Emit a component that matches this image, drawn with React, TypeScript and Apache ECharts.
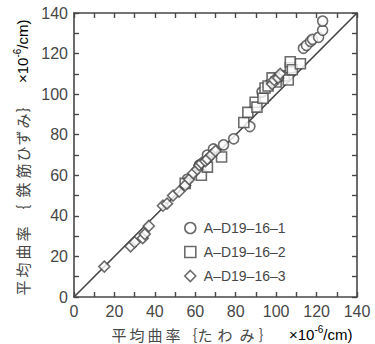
import React, { useEffect, useRef } from "react";
import * as echarts from "echarts";

const seriesNames = ["A–D19–16–1", "A–D19–16–2", "A–D19–16–3"];

const circleData: number[][] = [
  [56, 58], [62, 65], [66, 70], [69, 73], [74, 75], [79, 78], [87, 84],
  [93, 101], [97, 105], [100, 107], [113.5, 122.6], [115, 124], [117, 126],
  [118, 127], [121, 128], [123, 131.5], [123, 136],
];

const squareData: number[][] = [
  [55, 56], [63, 60], [66, 64], [73, 69], [84, 86], [86, 91], [89.6, 96],
  [90.5, 93.6], [93.5, 98], [94.5, 103], [96, 104], [98, 108], [100, 106],
  [104, 109], [106, 107], [107, 113], [107, 116], [108, 112], [112, 115],
];

const diamondData: number[][] = [
  [15, 15], [28, 25], [30, 27], [34, 29], [35, 31], [37, 35], [44, 45],
  [46, 46], [49, 50], [52, 52], [55, 55], [57, 58], [59, 61], [61, 63],
  [62, 65], [63, 66], [65, 67], [66, 68], [68, 70], [70, 72], [98, 105],
  [99, 107], [101, 108], [102, 110],
];

const equalityLine: number[][] = [[0, 0], [140, 140]];

const axisMin = 0;
const axisMax = 140;
const tickStep = 10;
const labelStep = 20;

const xTitleChars = ["平", "均", "曲", "率", "｛", "た", "わ", "み", "｝"];
const yTitleChars = ["平", "均", "曲", "率", "｛", "鉄", "筋", "ひ", "ず", "み", "｝"];
const unitMain = "×10";
const unitSup = "-6";
const unitTail = "/cm)";

const INK = "#474747";
const FONT = "'Liberation Sans', Arial, 'Noto Sans CJK JP', sans-serif";
const CJK = "'Noto Sans CJK JP', sans-serif";

export default function App() {
  const ref = useRef<HTMLDivElement>(null);
  useEffect(() => {
    if (!ref.current) return;
    const chart = echarts.init(ref.current, undefined, { renderer: "svg" });

    const axisCommon = {
      type: "value" as const,
      min: axisMin,
      max: axisMax,
      interval: tickStep,
      axisLine: { show: true, onZero: false, lineStyle: { color: INK, width: 1.6 } },
      axisTick: { show: true, inside: true, length: 5, lineStyle: { color: INK, width: 1.4 } },
      splitLine: { show: false },
    };
    const labelCommon = {
      fontSize: 16,
      color: INK,
      fontFamily: FONT,
      formatter: (v: number) => (v % labelStep === 0 ? String(v) : ""),
    };

    const xPos = [119, 137, 155, 173, 190, 205, 225, 247, 266];
    const yPos = [288, 270, 252, 234, 212, 190, 171, 154, 138, 121, 105];

    const unitRich = {
      a: { fontSize: 15, fontFamily: FONT, color: INK },
      s: { fontSize: 10, fontFamily: FONT, color: INK, padding: [0, 0, 9, 0] },
    };

    const graphics: any[] = [];
    xTitleChars.forEach((c, i) => {
      graphics.push({
        type: "text",
        x: xPos[i],
        y: 334,
        style: { text: c, font: `15px ${CJK}`, fill: INK, align: "center", verticalAlign: "middle" },
      });
    });
    graphics.push({
      type: "text",
      x: 289,
      y: 334,
      style: {
        text: `{a|${unitMain}}{s|${unitSup}}{a|${unitTail}}`,
        align: "left",
        verticalAlign: "middle",
        rich: unitRich,
      },
    });
    yTitleChars.forEach((c, i) => {
      graphics.push({
        type: "text",
        x: 22,
        y: yPos[i],
        rotation: Math.PI / 2,
        style: { text: c, font: `15px ${CJK}`, fill: INK, align: "center", verticalAlign: "middle" },
      });
    });
    graphics.push({
      type: "text",
      x: 22,
      y: 83,
      rotation: Math.PI / 2,
      style: {
        text: `{a|${unitMain}}{s|${unitSup}}{a|${unitTail}}`,
        align: "left",
        verticalAlign: "middle",
        rich: unitRich,
      },
    });

    const markerStyle = { color: "#ffffff", borderColor: INK, borderWidth: 1.6 };

    chart.setOption({
      animation: false,
      backgroundColor: "#ffffff",
      grid: { left: 74, top: 13, width: 283, height: 284, containLabel: false },
      xAxis: [
        { ...axisCommon, position: "bottom", axisLabel: { ...labelCommon, margin: 6 } },
        { ...axisCommon, position: "top", axisLabel: { show: false } },
      ],
      yAxis: [
        { ...axisCommon, position: "left", axisLabel: { ...labelCommon, margin: 6 } },
        { ...axisCommon, position: "right", axisLabel: { show: false } },
      ],
      legend: {
        orient: "vertical",
        left: 179,
        top: 216,
        itemWidth: 11,
        itemHeight: 11,
        itemGap: 10,
        data: seriesNames,
        itemStyle: { color: "#ffffff", borderColor: INK, borderWidth: 1.6 },
        textStyle: { fontSize: 14, color: INK, fontFamily: FONT, padding: [0, 0, 0, 3] },
      },
      graphic: graphics,
      series: [
        {
          type: "line",
          data: equalityLine,
          showSymbol: false,
          symbol: "none",
          lineStyle: { color: INK, width: 1.7 },
          silent: true,
          z: 1,
        },
        {
          name: seriesNames[0],
          type: "scatter",
          symbol: "circle",
          symbolSize: 10,
          data: circleData,
          itemStyle: markerStyle,
          z: 3,
        },
        {
          name: seriesNames[1],
          type: "scatter",
          symbol: "rect",
          symbolSize: 10,
          data: squareData,
          itemStyle: markerStyle,
          z: 3,
        },
        {
          name: seriesNames[2],
          type: "scatter",
          symbol: "diamond",
          symbolSize: 11,
          data: diamondData,
          itemStyle: markerStyle,
          z: 3,
        },
      ],
    });
    return () => chart.dispose();
  }, []);
  return (
    <div
      ref={ref}
      style={{ position: "fixed", left: 0, top: 0, width: 375, height: 344, background: "#fff" }}
    />
  );
}
